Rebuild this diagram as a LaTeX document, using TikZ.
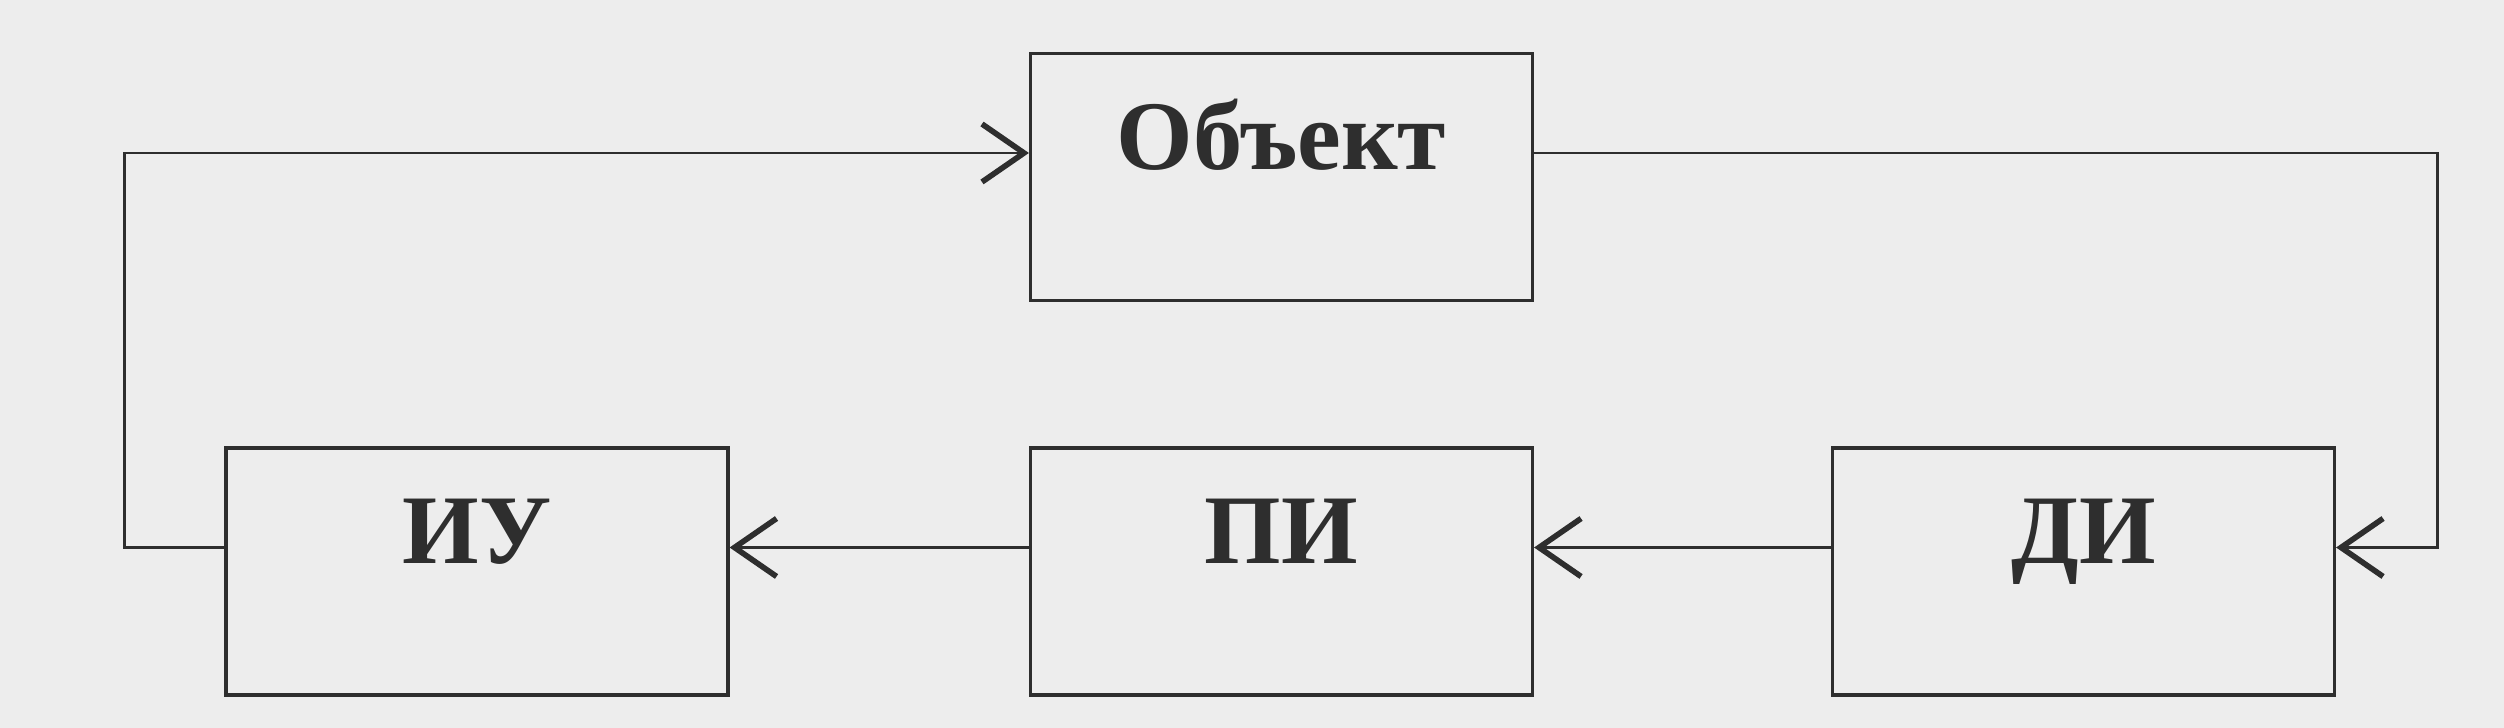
\documentclass[tikz,border=0pt]{standalone}
\usepackage{fontspec}
\setmainfont{Liberation Serif}
\usetikzlibrary{arrows.meta}
\definecolor{paper}{HTML}{EDEDED}
\definecolor{ink}{HTML}{2E2E2E}
\begin{document}
\begin{tikzpicture}[
  block/.style={draw=ink, line width=0.9pt, minimum width=5.02cm, inner ysep=0pt,
    text height=1.16cm, text depth=1.31cm, font=\fontsize{28}{30}\selectfont\bfseries, text=ink},
  flow/.style={draw=ink, line width=0.8pt,
    -{Straight Barb[length=4.2mm,width=5.8mm,line width=1.6pt]}}]
 \fill[paper](0,0) rectangle (25.04,7.28);
 \useasboundingbox (0,0) rectangle (25.04,7.28);
 \node[block] (obj) at (12.815,5.51) {Объект};
 \node[block] (iu) at (4.77,1.565) {ИУ};
 \node[block] (pi) at (12.815,1.565) {ПИ};
 \node[block] (di) at (20.835,1.565) {ДИ};
 \draw[flow] ([yshift=2.4mm]iu.west) -- ++(-1.0,0) |- ([yshift=2.4mm]obj.west);
 \draw[flow] ([yshift=2.4mm]obj.east) -- ++(9.03,0) |- ([yshift=2.4mm]di.east);
 \draw[flow] ([yshift=2.4mm]di.west) -- ([yshift=2.4mm]pi.east);
 \draw[flow] ([yshift=2.4mm]pi.west) -- ([yshift=2.4mm]iu.east);
\end{tikzpicture}
\end{document}
